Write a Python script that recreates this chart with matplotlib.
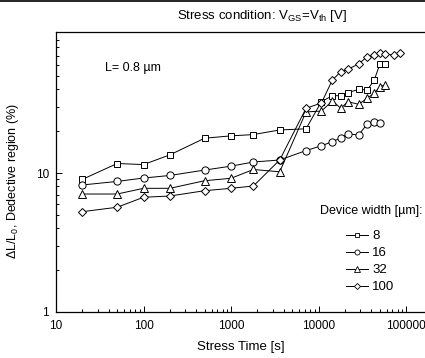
import matplotlib
matplotlib.use("Agg")
import matplotlib.pyplot as plt
from matplotlib.lines import Line2D
from matplotlib.ticker import LogLocator, NullFormatter, FixedLocator, FixedFormatter

plt.rcParams['font.family'] = ['Liberation Sans', 'DejaVu Sans']
plt.rcParams['mathtext.fontset'] = 'custom'
plt.rcParams['mathtext.rm'] = 'Liberation Sans'
plt.rcParams['mathtext.it'] = 'Liberation Sans'

# ---- data ----
times_8 = [20, 50, 100, 200, 500, 1000, 1800, 3600, 7200, 10800, 14400, 18000,
           21600, 28800, 36000, 43200, 50400, 57600]
w8 = [9.0, 11.7, 11.5, 13.5, 17.8, 18.5, 18.9, 20.4, 20.8, 32.6, 36.0, 36.0,
      37.8, 40.0, 39.5, 46.4, 61.0, 61.0]

times_16 = [20, 50, 100, 200, 500, 1000, 1800, 3600, 7200, 10800, 14400, 18000,
            21600, 28800, 36000, 43200, 50400]
w16 = [8.2, 8.7, 9.2, 9.6, 10.5, 11.2, 12.0, 12.4, 14.5, 15.7, 16.8, 17.9,
       19.1, 18.8, 22.5, 23.4, 23.0]

times_32 = [20, 50, 100, 200, 500, 1000, 1800, 3600, 7200, 10800, 14400, 18000,
            21600, 28800, 36000, 43200, 50400, 57600]
w32 = [7.06, 7.06, 7.76, 7.76, 8.8, 9.16, 10.6, 10.2, 27.5, 27.9, 33.0, 29.2,
       32.6, 31.2, 34.5, 37.4, 41.8, 43.0]

times_100 = [20, 50, 100, 200, 500, 1000, 1800, 3600, 7200, 10800, 14400, 18000,
             21600, 28800, 36000, 43200, 50400, 57600, 72000, 86400]
w100 = [5.27, 5.67, 6.69, 6.83, 7.46, 7.76, 8.06, 12.4, 29.2, 31.9, 46.7, 53.6,
        55.7, 60.9, 68.7, 70.6, 72.6, 71.8, 70.6, 72.6]

labels = ["8", "16", "32", "100"]
xtick_vals = [10, 100, 1000, 10000, 100000]
xtick_labels = ["10", "100", "1000", "10000", "100000"]
ytick_vals = [1, 10]
ytick_labels = ["1", "10"]

W, H = 425, 358
fig = plt.figure(figsize=(W / 100, H / 100), dpi=100)
L, R, T, B = 56, 425, 32, 312
ax = fig.add_axes([L / W, 1 - B / H, (R - L) / W, (B - T) / H])

series = [(times_8, w8, 's', 4.6), (times_16, w16, 'o', 5.2),
          (times_32, w32, '^', 5.4), (times_100, w100, 'D', 4.4)]
for (t, v, m, ms), lab in zip(series, labels):
    ax.plot(t, v, color='black', lw=0.7, marker=m, ms=ms, mfc='white',
            mec='black', mew=0.7, label=lab)

ax.set_xscale('log')
ax.set_yscale('log')
ax.set_xlim(10, 10 ** (5 + 19 / 87.6))
ax.set_ylim(1, 10 ** (280 / 139))

ax.xaxis.set_major_locator(FixedLocator(xtick_vals))
ax.xaxis.set_major_formatter(FixedFormatter(xtick_labels))
ax.xaxis.set_minor_locator(LogLocator(base=10, subs=range(2, 10)))
ax.xaxis.set_minor_formatter(NullFormatter())
ax.yaxis.set_major_locator(FixedLocator(ytick_vals))
ax.yaxis.set_major_formatter(FixedFormatter(ytick_labels))
ax.yaxis.set_minor_locator(LogLocator(base=10, subs=range(2, 10)))
ax.yaxis.set_minor_formatter(NullFormatter())

ax.tick_params(which='both', direction='in', top=False, right=False,
               labelsize=8.5, width=0.7)
ax.tick_params(axis='x', pad=6)
ax.tick_params(axis='y', pad=5)
ax.tick_params(which='major', length=4)
ax.tick_params(which='minor', length=2.5)
for s in ['left', 'bottom', 'top']:
    ax.spines[s].set_linewidth(0.9)
ax.spines['right'].set_visible(False)

ax.set_xlabel('Stress Time [s]', fontsize=9.5, labelpad=6)
fig.text(13 / W, 1 - 181 / H, r'ΔL/L$_0$, Dedective region (%)', fontsize=9,
         rotation=90, ha='center', va='center')

ax.text((105 - L) / (R - L), (B - 68) / (B - T), 'L= 0.8 µm', fontsize=9,
        ha='left', va='center', transform=ax.transAxes)
fig.text(262 / W, 1 - 16 / H,
         r'Stress condition: V$_{\mathregular{GS}}$=V$_{\mathregular{th}}$ [V]',
         fontsize=9.5, ha='center', va='center')
fig.text(423 / W, 1 - 211 / H, 'Device width [µm]:', fontsize=9,
         ha='right', va='center')

handles, labs = ax.get_legend_handles_labels()
leg_handles = [Line2D([], [], color='black', lw=0.7, marker=h.get_marker(),
                      ms=h.get_markersize() * 0.7, mfc='white', mec='black',
                      mew=0.6) for h in handles]
leg = ax.legend(leg_handles, labs, loc='upper left', frameon=False,
                fontsize=9.5, handlelength=1.7, handletextpad=0.3,
                labelspacing=0.36, borderaxespad=0, borderpad=0,
                bbox_to_anchor=((346 - L) / (R - L), (B - 230) / (B - T)))

fig.add_artist(Line2D([0, 1], [1 - 0.6 / H, 1 - 0.6 / H], color='black', lw=1.2,
                      transform=fig.transFigure))

fig.savefig('out.png', dpi=100)
